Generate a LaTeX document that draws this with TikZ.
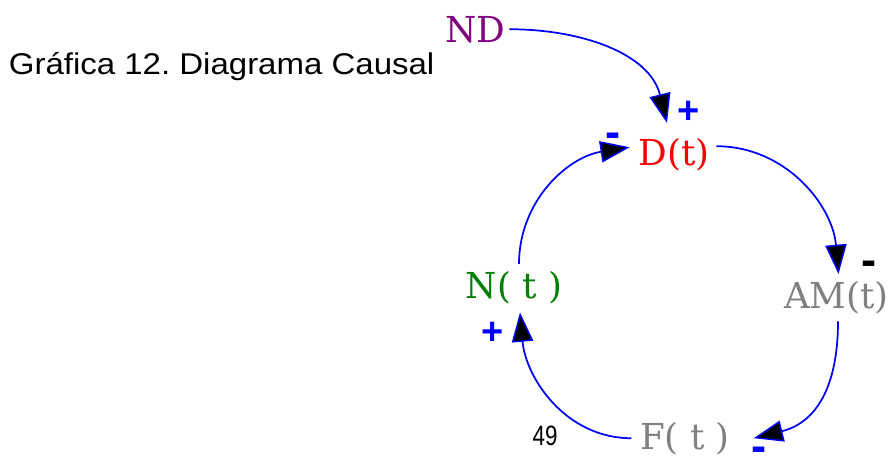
\documentclass[tikz,border=0pt]{standalone}
\usepackage{fontspec}
\setmainfont{DejaVu Serif}
\newfontfamily\titlefont[FakeStretch=1.1]{Liberation Sans}
\newfontfamily\signfont{Liberation Sans}
\newfontfamily\pagefont[FakeStretch=0.8]{Liberation Sans}
\usepackage{xcolor}
\usetikzlibrary{arrows.meta}

\definecolor{ndpurple}{RGB}{128,0,128}
\definecolor{dred}{RGB}{255,0,0}
\definecolor{stategray}{RGB}{128,128,128}
\definecolor{ngreen}{RGB}{0,128,0}
\definecolor{linkblue}{RGB}{0,0,255}

\begin{document}
\begin{tikzpicture}[x=0.75pt, y=0.75pt, line width=1.3pt,
    var/.style={inner sep=0pt, anchor=base, font=\fontsize{26.8}{30}\selectfont},
    plussign/.style={inner sep=0pt, anchor=base, text=linkblue, font=\signfont\bfseries\fontsize{28.5}{30}\selectfont},
    minussign/.style={inner sep=0pt, anchor=base, text=linkblue, font=\signfont\bfseries\fontsize{34}{36}\selectfont},
    link/.style={draw=linkblue, -{Triangle[length=22pt, width=16pt, line width=1.1pt, fill=black]}}]
    \fill[white] (0,0) rectangle (888,-455);
    \useasboundingbox (0,0) rectangle (888,-455);

    % Title
    \node[inner sep=0pt, anchor=base west, font=\titlefont\fontsize{22.5}{25}\selectfont] (title) at (8,-74) {Gráfica 12.\ Diagrama Causal};

    % Nodes
    \node[var, text=ndpurple] (ND) at (475.5,-42) {ND};
    \node[var, text=dred] (D) at (674,-165) {D(t)};
    \node[var, text=stategray] (AM) at (836.5,-308) {AM(t)};
    \node[var, text=stategray] (F) at (685,-449) {F( t )};
    \node[var, text=ngreen] (N) at (514,-298) {N( t )};
    \node[inner sep=0pt, anchor=base, font=\pagefont\fontsize{21}{22}\selectfont] (page) at (545,-445) {49};

    % Signs
    \node[plussign] (s1) at (689,-123.7) {+};
    \node[minussign] (s2) at (613,-147) {-};
    \node[minussign, text=black] (s3) at (869.5,-275.6) {-};
    \node[minussign] (s4) at (759.5,-461) {-};
    \node[plussign] (s5) at (493,-344.7) {+};

    % Edges
    \draw[link] ([shift={(3,0)}]ND.east) to[out=0, in=104] ([shift={(-7,14)}]D.north);
    \draw[link] ([shift={(6,8)}]D.east) to[out=0, in=95] ([shift={(2,6)}]AM.north);
    \draw[link] ([shift={(1.5,-7)}]AM.south) to[out=-90, in=14, looseness=1.15] ([shift={(23,0)}]F.east);
    \draw[link] ([shift={(-8,0)}]F.west) to[out=180, in=-85] ([shift={(6,-8)}]N.south);
    \draw[link] ([shift={(5,6)}]N.north) to[out=90, in=189] ([shift={(-8,7)}]D.west);
\end{tikzpicture}
\end{document}
